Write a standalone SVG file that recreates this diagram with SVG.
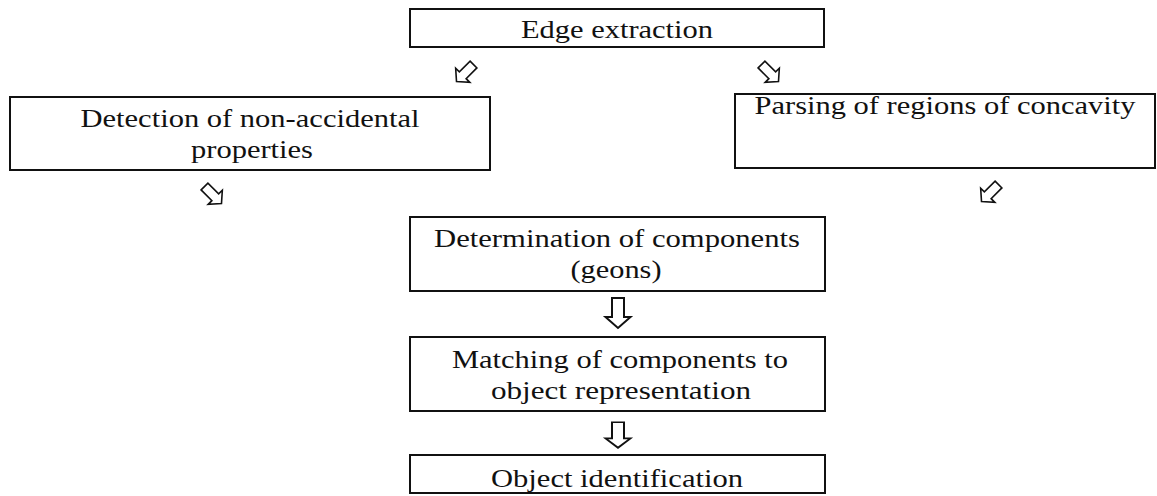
<svg xmlns="http://www.w3.org/2000/svg" xmlns:xlink="http://www.w3.org/1999/xlink" width="1157" height="496" viewBox="0 0 1157 496">
<style>
  .box { fill: #fff; stroke: #111; stroke-width: 2; }
  .t { font-family: "Liberation Serif", "Times New Roman", serif; font-size: 26px; fill: #111; text-anchor: middle; }
  .arr { fill: #fff; stroke: #111; stroke-width: 2; stroke-linejoin: miter; }
</style>
<defs>
  <path id="dn" d="M -6 -15 L 6 -15 L 6 4 L 12.5 4 L 0 15 L -12.5 4 L -6 4 Z"/>
</defs>
<rect width="1157" height="496" fill="#fff"/>

<g id="connectors">
  <use xlink:href="#dn" class="arr" transform="translate(465,73) rotate(45) scale(0.8)"/>
  <use xlink:href="#dn" class="arr" transform="translate(770,73) rotate(-45) scale(0.8)"/>
  <use xlink:href="#dn" class="arr" transform="translate(213,195) rotate(-45) scale(0.8)"/>
  <use xlink:href="#dn" class="arr" transform="translate(990,193) rotate(45) scale(0.8)"/>
  <use xlink:href="#dn" class="arr" transform="translate(618,313)"/>
  <use xlink:href="#dn" class="arr" transform="translate(618,435) scale(1,0.85)"/>
</g>

<g id="edge-extraction">
  <rect class="box" x="410" y="9" width="414" height="38"/>
  <text class="t" x="617" y="38" textLength="192" lengthAdjust="spacingAndGlyphs">Edge extraction</text>
</g>

<g id="detection">
  <rect class="box" x="10" y="97" width="480" height="73"/>
  <text class="t" x="250" y="127" textLength="339" lengthAdjust="spacingAndGlyphs">Detection of non-accidental</text>
  <text class="t" x="252" y="158" textLength="122" lengthAdjust="spacingAndGlyphs">properties</text>
</g>

<g id="parsing">
  <rect class="box" x="735" y="94" width="420" height="74"/>
  <text class="t" x="945" y="114" textLength="381" lengthAdjust="spacingAndGlyphs">Parsing of regions of concavity</text>
</g>

<g id="determination">
  <rect class="box" x="410" y="217" width="415" height="74"/>
  <text class="t" x="617" y="247" textLength="366" lengthAdjust="spacingAndGlyphs">Determination of components</text>
  <text class="t" x="616" y="278" textLength="91" lengthAdjust="spacingAndGlyphs">(geons)</text>
</g>

<g id="matching">
  <rect class="box" x="410" y="337" width="415" height="74"/>
  <text class="t" x="620" y="368" textLength="336" lengthAdjust="spacingAndGlyphs">Matching of components to</text>
  <text class="t" x="621" y="399" textLength="260" lengthAdjust="spacingAndGlyphs">object representation</text>
</g>

<g id="identification">
  <rect class="box" x="410" y="455" width="415" height="38"/>
  <text class="t" x="617" y="487" textLength="252" lengthAdjust="spacingAndGlyphs">Object identification</text>
</g>
</svg>
